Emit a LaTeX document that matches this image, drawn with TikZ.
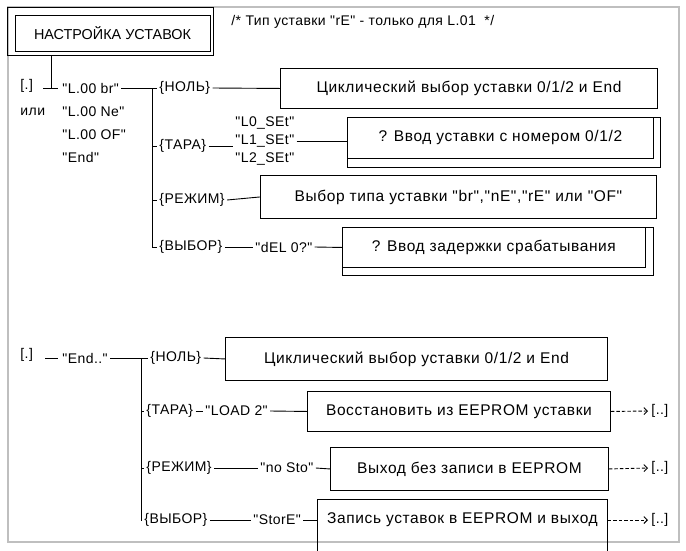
\documentclass[tikz,border=0pt]{standalone}
\usepackage{fontspec}
\setmainfont{Liberation Sans}
\newfontfamily\lblfont[LetterSpace=3]{Liberation Sans}
\newfontfamily\boxfont[LetterSpace=4]{Liberation Sans}
\usetikzlibrary{arrows.meta}
\begin{document}
\begin{tikzpicture}[x=1pt,y=-1pt,
  line width=0.9pt,
  lbl/.style={anchor=west,inner xsep=2pt,inner ysep=0pt,font=\lblfont\fontsize{14}{16}\selectfont},
  bx/.style={draw,inner sep=0pt,anchor=north west,font=\boxfont\fontsize{15.5}{18}\selectfont},
  frm/.style={draw=black!25,line width=1.5pt},
  dsh/.style={dash pattern=on 3.5pt off 2pt,-{Straight Barb[length=3.5pt,width=7pt]}},
]
\useasboundingbox (0,0) rectangle (686,550);
\draw[frm] (8,7) rectangle (679,542);
% title
\node[draw,fill=white,minimum width=195pt,minimum height=36pt,inner sep=0pt,font=\fontsize{14.4}{16}\selectfont] (title) at (112.5,33) {НАСТРОЙКА УСТАВОК};
\draw ([shift={(-7,-7)}]title.north west) rectangle ([shift={(3,4)}]title.south east);
\node[lbl] (cm) at (229,22) {/* Тип уставки "rE" - только для L.01\ \ */};
% top section labels
\node[lbl] (dot1) at (18,86) {[.]};
\node[lbl] (ili) at (18,112) {или};
\node[lbl] (l0br) at (60,88) {"L.00 br"};
\node[lbl] (l0ne) at (60,112) {"L.00 Ne"};
\node[lbl] (l0of) at (60,135) {"L.00 OF"};
\node[lbl] (lend) at (60,157) {"End"};
\node[lbl] (n1) at (157,88) {\{НОЛЬ\}};
\node[lbl] (t1) at (157,146) {\{ТАРА\}};
\node[lbl] (r1) at (157,200) {\{РЕЖИМ\}};
\node[lbl] (v1) at (157,247) {\{ВЫБОР\}};
\node[lbl] (s0) at (233,123) {"L0\_SEt"};
\node[lbl] (s1) at (233,141) {"L1\_SEt"};
\node[lbl] (s2) at (233,159) {"L2\_SEt"};
\node[lbl] (del) at (253,247) {"dEL 0?"};
% top boxes
\node[bx,minimum width=377pt,minimum height=40pt] (b1) at (280,68) {Циклический выбор уставки 0/1/2 и End};
\draw (347,117) rectangle (660,167);
\node[bx,fill=white,minimum width=306pt,minimum height=41pt] (b2) at (347,117) {? Ввод уставки с номером 0/1/2};
\node[bx,minimum width=396pt,minimum height=43pt] (b3) at (260,175) {Выбор типа уставки "br","nE","rE" или "OF"};
\draw (342,227) rectangle (653,275);
\node[bx,fill=white,minimum width=303pt,minimum height=40pt] (b4) at (342,227) {? Ввод задержки срабатывания};
% top connectors
\draw (51,55) -- (51,88);
\draw (43,88) -- (58,88);
\coordinate (tr) at (152,88);
\draw (l0br.east) -- (n1.west);
\draw (tr) |- (v1.west);
\draw (tr |- t1.west) -- (t1.west);
\draw (tr |- r1.west) -- (r1.west);
\draw (n1.east) -- (b1.west);
\draw (t1.east) -- (t1.east -| s1.west);
\draw (s1.east) -- (s1.east -| b2.west);
\draw (r1.east) -- (b3.west);
\draw (v1.east) -- (del.west);
\draw (del.east) -- (b4.west);
% bottom section
\node[lbl] (dot2) at (18,355) {[.]};
\node[lbl] (end2) at (60,358) {"End.."};
\node[lbl] (n2) at (148,358) {\{НОЛЬ\}};
\node[lbl] (t2) at (144,411) {\{ТАРА\}};
\node[lbl] (r2) at (144,468) {\{РЕЖИМ\}};
\node[lbl] (v2) at (142,520) {\{ВЫБОР\}};
\node[lbl] (ld) at (203,411) {"LOAD 2"};
\node[lbl] (ns) at (258,468) {"no Sto"};
\node[lbl] (st) at (251,520) {"StorE"};
\node[bx,minimum width=382pt,minimum height=43pt] (b5) at (225,337) {Циклический выбор уставки 0/1/2 и End};
\node[bx,minimum width=303pt,minimum height=40pt] (b6) at (307,391) {Восстановить из EEPROM уставки};
\node[bx,minimum width=278pt,minimum height=43pt] (b7) at (330,447) {Выход без записи в EEPROM};
\node[bx,draw=none,minimum width=290pt,minimum height=40pt,anchor=west] (b8) at (317,520) {Запись уставок в EEPROM и выход};
\coordinate (bot) at (0,560);
\draw (b8.west |- bot) -- (b8.north west) -- (b8.north east) -- (b8.east |- bot);
\node[lbl,inner xsep=3pt] (e6) at (648,411) {[..]};
\node[lbl,inner xsep=3pt] (e7) at (648,468) {[..]};
\node[lbl,inner xsep=3pt] (e8) at (648,520) {[..]};
% bottom connectors
\draw[shorten <=10pt,shorten >=2pt] (dot2.east |- end2.west) -- (end2.west);
\coordinate (br2) at (141,358);
\draw (end2.east) -- (n2.west);
\draw (br2) |- (v2.west);
\draw (br2 |- t2.west) -- (t2.west);
\draw (br2 |- r2.west) -- (r2.west);
\draw (n2.east) -- (b5.west);
\draw (t2.east) -- (ld.west);
\draw (ld.east) -- (b6.west);
\draw (r2.east) -- (ns.west);
\draw (ns.east) -- (b7.west);
\draw (v2.east) -- (st.west);
\draw (st.east) -- (b8.west);
\draw[dsh] (b6.east) -- (e6.west);
\draw[dsh] (b7.east) -- (e7.west);
\draw[dsh] (b8.east) -- (e8.west);
\end{tikzpicture}
\end{document}
